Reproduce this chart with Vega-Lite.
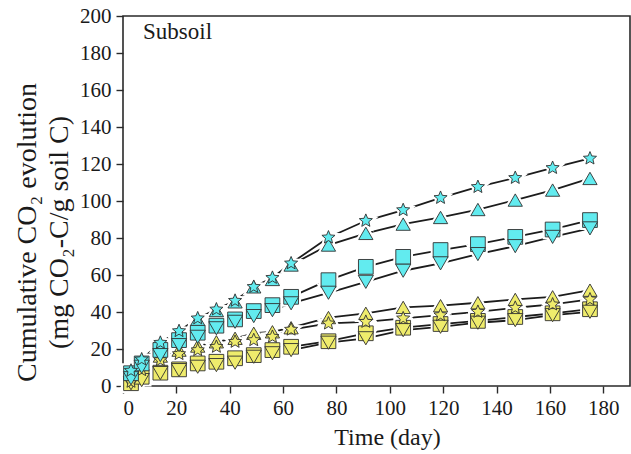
{
  "$schema": "https://vega.github.io/schema/vega-lite/v6.json",
  "width": 507,
  "height": 370,
  "autosize": "none",
  "padding": {"left": 123, "top": 16, "right": 1, "bottom": 68},
  "background": "white",
  "config": {
    "font": "Liberation Serif",
    "view": {"stroke": "#2a2a2a", "strokeWidth": 1.6},
    "axis": {
      "grid": false,
      "domain": false,
      "ticks": true,
      "tickSize": 7,
      "tickWidth": 1.4,
      "tickColor": "#2a2a2a",
      "labelFont": "Liberation Serif",
      "labelFontSize": 21,
      "labelColor": "#1a1a1a",
      "labelOverlap": false,
      "labelSeparation": 0,
      "titleFont": "Liberation Serif",
      "titleFontWeight": "normal",
      "titleColor": "#1a1a1a"
    }
  },
  "datasets": {
    "co2": [
      {"day": 3, "group": "G2", "treatment": "T2", "co2": 3.2},
      {"day": 7, "group": "G2", "treatment": "T2", "co2": 10.0},
      {"day": 14, "group": "G2", "treatment": "T2", "co2": 16.2},
      {"day": 21, "group": "G2", "treatment": "T2", "co2": 19.4},
      {"day": 28, "group": "G2", "treatment": "T2", "co2": 21.6},
      {"day": 35, "group": "G2", "treatment": "T2", "co2": 23.9},
      {"day": 42, "group": "G2", "treatment": "T2", "co2": 25.8},
      {"day": 49, "group": "G2", "treatment": "T2", "co2": 28.5},
      {"day": 56, "group": "G2", "treatment": "T2", "co2": 29.3},
      {"day": 63, "group": "G2", "treatment": "T2", "co2": 31.5},
      {"day": 77, "group": "G2", "treatment": "T2", "co2": 37.0},
      {"day": 91, "group": "G2", "treatment": "T2", "co2": 39.3},
      {"day": 105, "group": "G2", "treatment": "T2", "co2": 42.5},
      {"day": 119, "group": "G2", "treatment": "T2", "co2": 43.4},
      {"day": 133, "group": "G2", "treatment": "T2", "co2": 45.0},
      {"day": 147, "group": "G2", "treatment": "T2", "co2": 46.8},
      {"day": 161, "group": "G2", "treatment": "T2", "co2": 48.2},
      {"day": 175, "group": "G2", "treatment": "T2", "co2": 51.8},

      {"day": 3, "group": "G2", "treatment": "T3", "co2": 1.5},
      {"day": 7, "group": "G2", "treatment": "T3", "co2": 5.0},
      {"day": 14, "group": "G2", "treatment": "T3", "co2": 7.2},
      {"day": 21, "group": "G2", "treatment": "T3", "co2": 9.0},
      {"day": 28, "group": "G2", "treatment": "T3", "co2": 12.2},
      {"day": 35, "group": "G2", "treatment": "T3", "co2": 13.1},
      {"day": 42, "group": "G2", "treatment": "T3", "co2": 15.0},
      {"day": 49, "group": "G2", "treatment": "T3", "co2": 16.7},
      {"day": 56, "group": "G2", "treatment": "T3", "co2": 19.4},
      {"day": 63, "group": "G2", "treatment": "T3", "co2": 21.2},
      {"day": 77, "group": "G2", "treatment": "T3", "co2": 24.2},
      {"day": 91, "group": "G2", "treatment": "T3", "co2": 28.5},
      {"day": 105, "group": "G2", "treatment": "T3", "co2": 31.5},
      {"day": 119, "group": "G2", "treatment": "T3", "co2": 33.5},
      {"day": 133, "group": "G2", "treatment": "T3", "co2": 35.2},
      {"day": 147, "group": "G2", "treatment": "T3", "co2": 37.3},
      {"day": 161, "group": "G2", "treatment": "T3", "co2": 39.3},
      {"day": 175, "group": "G2", "treatment": "T3", "co2": 41.5},

      {"day": 3, "group": "G2", "treatment": "T4", "co2": 1.5},
      {"day": 7, "group": "G2", "treatment": "T4", "co2": 3.2},
      {"day": 14, "group": "G2", "treatment": "T4", "co2": 7.0},
      {"day": 21, "group": "G2", "treatment": "T4", "co2": 8.6},
      {"day": 28, "group": "G2", "treatment": "T4", "co2": 10.4},
      {"day": 35, "group": "G2", "treatment": "T4", "co2": 11.3},
      {"day": 42, "group": "G2", "treatment": "T4", "co2": 12.6},
      {"day": 49, "group": "G2", "treatment": "T4", "co2": 15.8},
      {"day": 56, "group": "G2", "treatment": "T4", "co2": 17.7},
      {"day": 63, "group": "G2", "treatment": "T4", "co2": 19.4},
      {"day": 77, "group": "G2", "treatment": "T4", "co2": 23.4},
      {"day": 91, "group": "G2", "treatment": "T4", "co2": 25.8},
      {"day": 105, "group": "G2", "treatment": "T4", "co2": 30.2},
      {"day": 119, "group": "G2", "treatment": "T4", "co2": 32.0},
      {"day": 133, "group": "G2", "treatment": "T4", "co2": 34.2},
      {"day": 147, "group": "G2", "treatment": "T4", "co2": 35.6},
      {"day": 161, "group": "G2", "treatment": "T4", "co2": 38.3},
      {"day": 175, "group": "G2", "treatment": "T4", "co2": 40.1},

      {"day": 3, "group": "G2", "treatment": "T1", "co2": 2.3},
      {"day": 7, "group": "G2", "treatment": "T1", "co2": 8.6},
      {"day": 14, "group": "G2", "treatment": "T1", "co2": 14.0},
      {"day": 21, "group": "G2", "treatment": "T1", "co2": 17.3},
      {"day": 28, "group": "G2", "treatment": "T1", "co2": 19.4},
      {"day": 35, "group": "G2", "treatment": "T1", "co2": 21.2},
      {"day": 42, "group": "G2", "treatment": "T1", "co2": 23.9},
      {"day": 49, "group": "G2", "treatment": "T1", "co2": 24.8},
      {"day": 56, "group": "G2", "treatment": "T1", "co2": 26.6},
      {"day": 63, "group": "G2", "treatment": "T1", "co2": 30.5},
      {"day": 77, "group": "G2", "treatment": "T1", "co2": 33.8},
      {"day": 91, "group": "G2", "treatment": "T1", "co2": 34.7},
      {"day": 105, "group": "G2", "treatment": "T1", "co2": 36.6},
      {"day": 119, "group": "G2", "treatment": "T1", "co2": 38.3},
      {"day": 133, "group": "G2", "treatment": "T1", "co2": 40.1},
      {"day": 147, "group": "G2", "treatment": "T1", "co2": 42.3},
      {"day": 161, "group": "G2", "treatment": "T1", "co2": 44.1},
      {"day": 175, "group": "G2", "treatment": "T1", "co2": 46.8},

      {"day": 3, "group": "G1", "treatment": "T2", "co2": 7.5},
      {"day": 7, "group": "G1", "treatment": "T2", "co2": 13.5},
      {"day": 14, "group": "G1", "treatment": "T2", "co2": 22.5},
      {"day": 21, "group": "G1", "treatment": "T2", "co2": 29.0},
      {"day": 28, "group": "G1", "treatment": "T2", "co2": 36.0},
      {"day": 35, "group": "G1", "treatment": "T2", "co2": 40.8},
      {"day": 42, "group": "G1", "treatment": "T2", "co2": 45.5},
      {"day": 49, "group": "G1", "treatment": "T2", "co2": 53.6},
      {"day": 56, "group": "G1", "treatment": "T2", "co2": 57.6},
      {"day": 63, "group": "G1", "treatment": "T2", "co2": 65.4},
      {"day": 77, "group": "G1", "treatment": "T2", "co2": 76.2},
      {"day": 91, "group": "G1", "treatment": "T2", "co2": 82.5},
      {"day": 105, "group": "G1", "treatment": "T2", "co2": 87.5},
      {"day": 119, "group": "G1", "treatment": "T2", "co2": 91.1},
      {"day": 133, "group": "G1", "treatment": "T2", "co2": 95.4},
      {"day": 147, "group": "G1", "treatment": "T2", "co2": 100.5},
      {"day": 161, "group": "G1", "treatment": "T2", "co2": 105.9},
      {"day": 175, "group": "G1", "treatment": "T2", "co2": 112.2},

      {"day": 3, "group": "G1", "treatment": "T3", "co2": 6.9},
      {"day": 7, "group": "G1", "treatment": "T3", "co2": 12.2},
      {"day": 14, "group": "G1", "treatment": "T3", "co2": 19.5},
      {"day": 21, "group": "G1", "treatment": "T3", "co2": 24.8},
      {"day": 28, "group": "G1", "treatment": "T3", "co2": 28.8},
      {"day": 35, "group": "G1", "treatment": "T3", "co2": 32.6},
      {"day": 42, "group": "G1", "treatment": "T3", "co2": 36.0},
      {"day": 49, "group": "G1", "treatment": "T3", "co2": 40.5},
      {"day": 56, "group": "G1", "treatment": "T3", "co2": 43.7},
      {"day": 63, "group": "G1", "treatment": "T3", "co2": 48.2},
      {"day": 77, "group": "G1", "treatment": "T3", "co2": 57.2},
      {"day": 91, "group": "G1", "treatment": "T3", "co2": 64.4},
      {"day": 105, "group": "G1", "treatment": "T3", "co2": 69.8},
      {"day": 119, "group": "G1", "treatment": "T3", "co2": 73.5},
      {"day": 133, "group": "G1", "treatment": "T3", "co2": 76.7},
      {"day": 147, "group": "G1", "treatment": "T3", "co2": 80.6},
      {"day": 161, "group": "G1", "treatment": "T3", "co2": 84.6},
      {"day": 175, "group": "G1", "treatment": "T3", "co2": 89.7},

      {"day": 3, "group": "G1", "treatment": "T4", "co2": 4.2},
      {"day": 7, "group": "G1", "treatment": "T4", "co2": 10.4},
      {"day": 14, "group": "G1", "treatment": "T4", "co2": 16.7},
      {"day": 21, "group": "G1", "treatment": "T4", "co2": 22.1},
      {"day": 28, "group": "G1", "treatment": "T4", "co2": 26.6},
      {"day": 35, "group": "G1", "treatment": "T4", "co2": 31.2},
      {"day": 42, "group": "G1", "treatment": "T4", "co2": 34.7},
      {"day": 49, "group": "G1", "treatment": "T4", "co2": 37.8},
      {"day": 56, "group": "G1", "treatment": "T4", "co2": 41.0},
      {"day": 63, "group": "G1", "treatment": "T4", "co2": 44.7},
      {"day": 77, "group": "G1", "treatment": "T4", "co2": 50.4},
      {"day": 91, "group": "G1", "treatment": "T4", "co2": 56.3},
      {"day": 105, "group": "G1", "treatment": "T4", "co2": 62.3},
      {"day": 119, "group": "G1", "treatment": "T4", "co2": 66.3},
      {"day": 133, "group": "G1", "treatment": "T4", "co2": 71.3},
      {"day": 147, "group": "G1", "treatment": "T4", "co2": 75.6},
      {"day": 161, "group": "G1", "treatment": "T4", "co2": 80.6},
      {"day": 175, "group": "G1", "treatment": "T4", "co2": 85.2},

      {"day": 3, "group": "G1", "treatment": "T1", "co2": 8.3},
      {"day": 7, "group": "G1", "treatment": "T1", "co2": 14.4},
      {"day": 14, "group": "G1", "treatment": "T1", "co2": 23.4},
      {"day": 21, "group": "G1", "treatment": "T1", "co2": 29.7},
      {"day": 28, "group": "G1", "treatment": "T1", "co2": 36.6},
      {"day": 35, "group": "G1", "treatment": "T1", "co2": 41.4},
      {"day": 42, "group": "G1", "treatment": "T1", "co2": 46.1},
      {"day": 49, "group": "G1", "treatment": "T1", "co2": 53.6},
      {"day": 56, "group": "G1", "treatment": "T1", "co2": 58.5},
      {"day": 63, "group": "G1", "treatment": "T1", "co2": 66.3},
      {"day": 77, "group": "G1", "treatment": "T1", "co2": 80.3},
      {"day": 91, "group": "G1", "treatment": "T1", "co2": 89.3},
      {"day": 105, "group": "G1", "treatment": "T1", "co2": 95.1},
      {"day": 119, "group": "G1", "treatment": "T1", "co2": 101.7},
      {"day": 133, "group": "G1", "treatment": "T1", "co2": 107.6},
      {"day": 147, "group": "G1", "treatment": "T1", "co2": 112.5},
      {"day": 161, "group": "G1", "treatment": "T1", "co2": 117.9},
      {"day": 175, "group": "G1", "treatment": "T1", "co2": 123.0}
    ]
  },
  "layer": [
    {
      "data": {"name": "co2"},
      "mark": {"type": "line", "color": "#1c1c1c", "strokeWidth": 1.8},
      "encoding": {
        "x": {"field": "day", "type": "quantitative"},
        "y": {"field": "co2", "type": "quantitative"},
        "detail": [{"field": "group"}, {"field": "treatment"}]
      }
    },
    {
      "data": {"name": "co2"},
      "mark": {"type": "point", "filled": true, "fill": "white", "stroke": "white", "strokeWidth": 5, "opacity": 1},
      "encoding": {
        "x": {"field": "day", "type": "quantitative"},
        "y": {"field": "co2", "type": "quantitative"},
        "shape": {"field": "treatment", "type": "nominal", "legend": null,
          "scale": {"domain": ["T1", "T2", "T3", "T4"],
            "range": ["M0,-1L0.2645,-0.364L0.951,-0.309L0.428,0.139L0.588,0.809L0,0.45L-0.588,0.809L-0.428,0.139L-0.951,-0.309L-0.2645,-0.364Z", "triangle-up", "square", "triangle-down"]}},
        "size": {"field": "treatment", "type": "nominal", "legend": null,
          "scale": {"domain": ["T1", "T2", "T3", "T4"], "range": [190, 230, 85, 230]}}
      }
    },
    {
      "data": {"name": "co2"},
      "mark": {"type": "point", "filled": true, "stroke": "#303030", "strokeWidth": 0.9, "opacity": 1},
      "encoding": {
        "x": {"field": "day", "type": "quantitative",
          "scale": {"domain": [0, 190], "nice": false, "zero": false},
          "axis": {"tickCount": 10,
            "title": "Time (day)", "titleFontSize": 24,
            "labelFont": "Liberation Serif", "labelFontSize": 21,
            "labelPadding": 4, "titleX": 264, "titleY": 58, "titleBaseline": "alphabetic"}},
        "y": {"field": "co2", "type": "quantitative",
          "scale": {"domain": [0, 200], "nice": false},
          "axis": {"tickCount": 10,
            "title": ["Cumulative CO₂ evolution", "(mg CO₂-C/g soil C)"],
            "labelFont": "Liberation Serif", "labelFontSize": 21, "labelOverlap": false,
            "titleFontSize": 28, "titleLineHeight": 32, "labelPadding": 5,
            "titleAngle": -90, "titleAlign": "center", "titleBaseline": "alphabetic",
            "titleX": -88, "titleY": 216}},
        "fill": {"field": "group", "type": "nominal", "legend": null,
          "scale": {"domain": ["G1", "G2"], "range": ["#62EBEF", "#EFEC6C"]}},
        "shape": {"field": "treatment", "type": "nominal", "legend": null,
          "scale": {"domain": ["T1", "T2", "T3", "T4"],
            "range": ["M0,-1L0.2645,-0.364L0.951,-0.309L0.428,0.139L0.588,0.809L0,0.45L-0.588,0.809L-0.428,0.139L-0.951,-0.309L-0.2645,-0.364Z", "triangle-up", "square", "triangle-down"]}},
        "size": {"field": "treatment", "type": "nominal", "legend": null,
          "scale": {"domain": ["T1", "T2", "T3", "T4"], "range": [190, 230, 85, 230]}}
      }
    },
    {
      "data": {"values": [{}]},
      "mark": {"type": "text", "align": "left", "baseline": "alphabetic", "font": "Liberation Serif", "fontSize": 23, "color": "#1a1a1a"},
      "encoding": {
        "x": {"datum": 7.5, "type": "quantitative"},
        "y": {"datum": 187.3, "type": "quantitative"},
        "text": {"value": "Subsoil"}
      }
    }
  ]
}
